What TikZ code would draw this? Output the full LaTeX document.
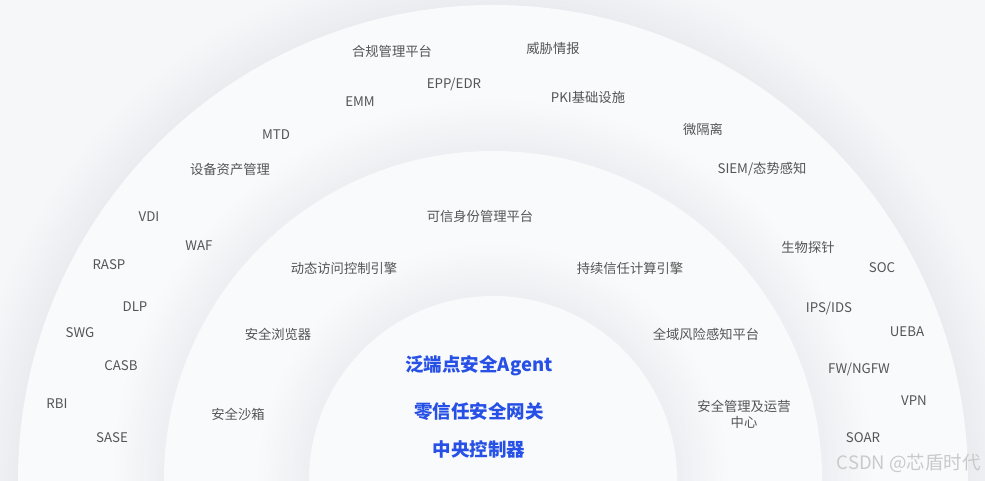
\documentclass[tikz,border=0pt]{standalone}
\usepackage{fontspec}
\setmainfont{Noto Sans CJK SC}
\definecolor{bg}{HTML}{F6F7F9}
\definecolor{band}{HTML}{F9FAFB}
\definecolor{shade}{HTML}{A4AABB}
\definecolor{txt}{HTML}{555555}
\definecolor{core}{HTML}{2650E6}
\definecolor{wmark}{HTML}{CACACA}
\tikzset{
  lbl/.style={text=txt, font=\fontsize{13.3}{16}\selectfont, inner sep=0pt, align=center},
  corelbl/.style={text=core, font=\fontsize{18.5}{22}\selectfont\bfseries, inner sep=0pt},
  wmlbl/.style={text=wmark, font=\fontsize{18.5}{22}\selectfont, inner sep=0pt},
  disc/.style={fill=band}
}
% soft shadow round an arch: #1 radius, #2 base colour
\newcommand\archhalo[2]{%
  \foreach \k in {18,17,...,1}{%
    \pgfmathsetmacro\mixp{14*(19-\k)/18}%
    \fill[shade!\mixp!#2] (493,480) circle[radius=#1pt+\k*2.8pt];}}
\begin{document}
\begin{tikzpicture}[x=1pt,y=-1pt]
\useasboundingbox (0,0) rectangle (985,481);
\clip (0,0) rectangle (985,481);
\fill[bg] (0,0) rectangle (985,481);
% outer arch
\archhalo{475}{bg}
\fill[disc] (493,480) circle[radius=475pt];
% middle arch
\archhalo{329}{band}
\fill[disc] (493,480) circle[radius=329pt];
% inner arch
\archhalo{184}{band}
\fill[disc] (493,480) circle[radius=184pt];

% outer band labels
\node[lbl] (hegui) at (392,51) {合规管理平台};
\node[lbl] (weixie) at (553,48) {威胁情报};
\node[lbl] (epp) at (454,84) {EPP/EDR};
\node[lbl] (emm) at (360,102) {EMM};
\node[lbl] (pki) at (588,97) {PKI基础设施};
\node[lbl] (mtd) at (276,135) {MTD};
\node[lbl] (wgl) at (703,129) {微隔离};
\node[lbl] (sbzc) at (230,169) {设备资产管理};
\node[lbl] (siem) at (762,169) {SIEM/态势感知};
\node[lbl] (vdi) at (149,217) {VDI};
\node[lbl] (waf) at (199,246) {WAF};
\node[lbl] (swtz) at (808,247) {生物探针};
\node[lbl] (rasp) at (109,265) {RASP};
\node[lbl] (soc) at (882,268) {SOC};
\node[lbl] (dlp) at (135,307) {DLP};
\node[lbl] (ips) at (829,308) {IPS/IDS};
\node[lbl] (swg) at (80,333) {SWG};
\node[lbl] (ueba) at (907,332) {UEBA};
\node[lbl] (casb) at (121,366) {CASB};
\node[lbl] (fw) at (859,369) {FW/NGFW};
\node[lbl] (rbi) at (57,404) {RBI};
\node[lbl] (vpn) at (914,401) {VPN};
\node[lbl] (sase) at (112,438) {SASE};
\node[lbl] (soar) at (863,438) {SOAR};

% middle band labels
\node[lbl] (kxsf) at (480,216) {可信身份管理平台};
\node[lbl] (dtfw) at (344,268) {动态访问控制引擎};
\node[lbl] (cxxr) at (630,268) {持续信任计算引擎};
\node[lbl] (aqllq) at (278,334) {安全浏览器};
\node[lbl] (qyfx) at (706,334) {全域风险感知平台};
\node[lbl] (aqsx) at (238,414) {安全沙箱};
\node[lbl] (aqgl) at (744,414) {安全管理及运营\\中心};

% core labels
\node[corelbl] (agent) at (479,366) {泛端点安全Agent};
\node[corelbl] (gw) at (479,412) {零信任安全网关};
\node[corelbl] (ctrl) at (479,449) {中央控制器};

% watermark
\node[wmlbl, anchor=east] (wm) at (981,463) {CSDN @芯盾时代};
\end{tikzpicture}
\end{document}
